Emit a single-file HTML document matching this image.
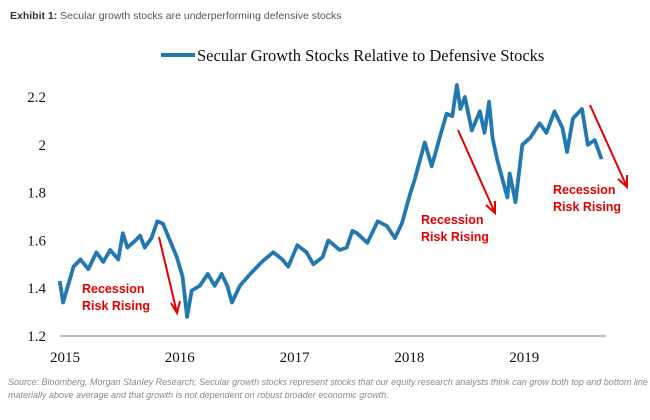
<!DOCTYPE html>
<html><head><meta charset="utf-8"><style>
body{margin:0;background:#fff;width:650px;height:420px;overflow:hidden}
svg{display:block}
</style></head><body>
<svg id="c" width="650" height="420" xmlns="http://www.w3.org/2000/svg">
<text x="10" y="19" font-family="Liberation Sans, sans-serif" font-size="10.5" fill="#555"><tspan font-weight="bold" fill="#333">Exhibit 1:</tspan> Secular growth stocks are underperforming defensive stocks</text>
<g>
<line x1="161" y1="55" x2="195" y2="55" stroke="#2378b0" stroke-width="4"/>
<text x="197" y="61" font-family="Liberation Serif, serif" font-size="16.5" fill="#111">Secular Growth Stocks Relative to Defensive Stocks</text>
</g>
<line x1="60" y1="336" x2="606" y2="336" stroke="#999" stroke-width="1.3"/>
<g id="yt"></g>
<g id="xt"></g>
<path id="ln" fill="none" stroke="#2378b0" stroke-width="3.8" stroke-linejoin="round"/>
<g fill="#e00000" font-family="Liberation Sans, sans-serif" font-weight="bold" font-size="12.5">
<text x="82" y="293"><tspan x="82">Recession</tspan><tspan x="82" dy="17">Risk Rising</tspan></text>
<text x="421" y="224"><tspan x="421">Recession</tspan><tspan x="421" dy="17">Risk Rising</tspan></text>
<text x="553" y="194"><tspan x="553">Recession</tspan><tspan x="553" dy="17">Risk Rising</tspan></text>
</g>
<g stroke="#e00000" stroke-width="2" fill="none">
<path d="M159 237 L177 313 M171 303 L177 313 L180 301"/>
<path d="M458 130 L495 213 M486 205 L495 213 L495 201"/>
<path d="M590 105 L627 187 M618 179 L627 187 L627 175"/>
</g>
<text font-family="Liberation Sans, sans-serif" font-style="italic" font-size="9" fill="#888"><tspan x="8" y="385">Source: Bloomberg, Morgan Stanley Research; Secular growth stocks represent stocks that our equity research analysts think can grow both top and bottom line</tspan><tspan x="8" y="398">materially above average and that growth is not dependent on robust broader economic growth.</tspan></text>
</svg>
<script>
const years=[2014.98,2015.01,2015.10,2015.16,2015.23,2015.30,2015.36,2015.42,2015.49,2015.53,2015.57,2015.64,2015.68,2015.72,2015.78,2015.83,2015.88,2015.94,2016.00,2016.05,2016.09,2016.13,2016.20,2016.27,2016.33,2016.39,2016.44,2016.48,2016.55,2016.64,2016.74,2016.84,2016.92,2016.97,2017.05,2017.13,2017.19,2017.27,2017.32,2017.42,2017.48,2017.53,2017.57,2017.66,2017.75,2017.83,2017.90,2017.96,2018.03,2018.07,2018.16,2018.22,2018.29,2018.35,2018.40,2018.44,2018.47,2018.51,2018.57,2018.64,2018.68,2018.72,2018.75,2018.79,2018.84,2018.88,2018.90,2018.95,2019.01,2019.08,2019.16,2019.22,2019.29,2019.36,2019.40,2019.45,2019.53,2019.58,2019.64,2019.70];
const values=[1.43,1.34,1.49,1.52,1.48,1.55,1.51,1.56,1.52,1.63,1.57,1.60,1.62,1.57,1.61,1.68,1.67,1.60,1.53,1.45,1.28,1.39,1.41,1.46,1.41,1.46,1.41,1.34,1.41,1.46,1.51,1.55,1.52,1.49,1.58,1.55,1.50,1.53,1.60,1.56,1.57,1.64,1.63,1.59,1.68,1.66,1.61,1.67,1.79,1.85,2.01,1.91,2.03,2.13,2.12,2.25,2.15,2.20,2.06,2.14,2.05,2.18,2.03,1.94,1.85,1.78,1.88,1.76,2.00,2.03,2.09,2.05,2.14,2.07,1.97,2.11,2.15,2.00,2.02,1.94];
const yTicks=["1.2","1.4","1.6","1.8","2","2.2"];
const xTicks=["2015","2016","2017","2018","2019"];
const X=v=>62+(v-2015)*114.8;
const Y=v=>336-(v-1.2)*239;
const NS="http://www.w3.org/2000/svg";
const yt=document.getElementById('yt'),xt=document.getElementById('xt');
yTicks.forEach(t=>{const e=document.createElementNS(NS,'text');


e.setAttribute('x',46);e.setAttribute('y',Y(+t)+5);e.setAttribute('text-anchor','end');
e.setAttribute('font-family','Liberation Serif, serif');e.setAttribute('font-size','15');e.setAttribute('fill','#111');
e.textContent=t;yt.appendChild(e);});
xTicks.forEach(t=>{const e=document.createElementNS(NS,'text');


e.setAttribute('x',X(+t)+3);e.setAttribute('y',362);e.setAttribute('text-anchor','middle');
e.setAttribute('font-family','Liberation Serif, serif');e.setAttribute('font-size','15');e.setAttribute('fill','#111');
e.textContent=t;xt.appendChild(e);});
document.getElementById('ln').setAttribute('d',years.map((y,i)=>(i?'L':'M')+X(y).toFixed(1)+' '+Y(values[i]).toFixed(1)).join(' '));
</script>
</body></html>
